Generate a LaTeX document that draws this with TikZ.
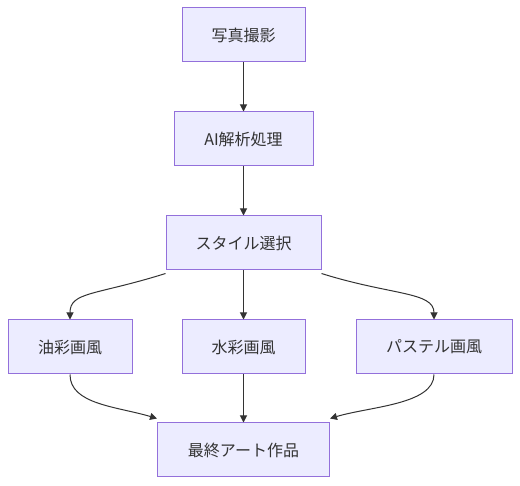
\documentclass[tikz,border=0pt]{standalone}
\usepackage{fontspec}
\setmainfont{Noto Sans CJK JP}
\usetikzlibrary{arrows.meta}
\definecolor{nodefill}{HTML}{ECECFF}
\definecolor{nodeborder}{HTML}{9370DB}
\definecolor{edgecol}{HTML}{333333}
\begin{document}
\begin{tikzpicture}[x=1pt,y=-1pt,
  box/.style={draw=nodeborder,fill=nodefill,line width=1pt,minimum height=54pt,inner sep=0pt,font=\fontsize{16}{19}\selectfont,text=edgecol},
  edge/.style={draw=edgecol,line width=1pt,-{Triangle[length=7pt,width=7pt]}}]
\useasboundingbox (0,0) rectangle (520,486);
\node[box,minimum width=123pt] (photo) at (243.5,35) {写真撮影};
\node[box,minimum width=139pt] (ai) at (243.5,139) {AI解析処理};
\node[box,minimum width=155pt] (sel) at (243.5,243) {スタイル選択};
\node[box,minimum width=124pt] (oil) at (70,347) {油彩画風};
\node[box,minimum width=123pt] (water) at (243.5,347) {水彩画風};
\node[box,minimum width=156pt] (pastel) at (434,347) {パステル画風};
\node[box,minimum width=172pt] (final) at (243.5,450) {最終アート作品};
\draw[edge] (photo) -- (ai);
\draw[edge] (ai) -- (sel);
\draw[edge] (sel) -- (water);
\draw[edge] (water) -- (final);
\draw[edge] ([yshift=-3pt]sel.south west) .. controls +(-70,22) and +(0,-28) .. (oil.north);
\draw[edge] ([yshift=-3pt]sel.south east) .. controls +(70,22) and +(0,-28) .. (pastel.north);
\draw[edge] (oil.south) .. controls +(0,30) and +(-40,-12) .. ([yshift=4pt]final.north west);
\draw[edge] (pastel.south) .. controls +(0,30) and +(40,-12) .. ([yshift=4pt]final.north east);
\end{tikzpicture}
\end{document}
